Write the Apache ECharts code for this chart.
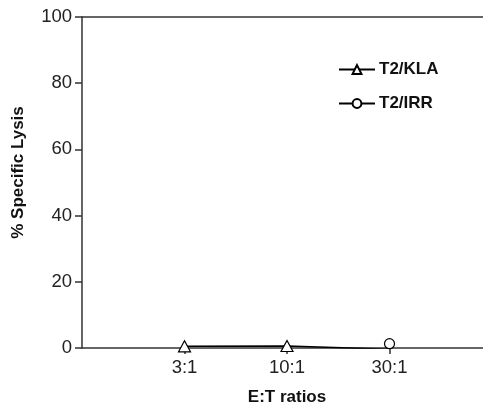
<!DOCTYPE html>
<html>
<head>
<meta charset="utf-8">
<script src="https://cdn.jsdelivr.net/npm/echarts@6/dist/echarts.min.js"></script>
<style>
html, body { margin: 0; padding: 0; background: #fff; }
#chart { width: 483px; height: 407px; }
</style>
</head>
<body>
<div id="chart"></div>
<script>
// E:T ratio categories, placed at positions 1..3 on the x scale
const categories = ['3:1', '10:1', '30:1'];
const positions = [1, 2, 3];
// % specific lysis per effector:target ratio
const klaValues = [0.5, 0.6, -0.4];
const irrValues = [null, null, 1.3];
const yTicks = [0, 20, 40, 60, 80, 100];

const font = 'Liberation Sans, Arial, Helvetica, sans-serif';
const axisColor = '#333';

function pairs(vals) {
  return positions.map((p, i) => [p, vals[i]]);
}

const chart = echarts.init(document.getElementById('chart'));
chart.setOption({
  animation: false,
  backgroundColor: '#fff',
  textStyle: { fontFamily: font },
  grid: { left: 82, top: 17, width: 410, height: 331, containLabel: false, outerBoundsMode: 'none' },
  legend: {
    orient: 'vertical',
    left: 333,
    top: 56,
    itemWidth: 36,
    itemHeight: 11,
    itemGap: 17,
    textStyle: { fontFamily: font, fontSize: 17, fontWeight: 'bold', color: '#111', padding: [0, 0, 0, -1] },
    data: ['T2/KLA', 'T2/IRR']
  },
  xAxis: [{
    type: 'value',
    min: 0,
    max: 4,
    interval: 1,
    name: 'E:T ratios',
    nameLocation: 'middle',
    nameGap: 41,
    nameTextStyle: { fontFamily: font, fontSize: 17, fontWeight: 'bold', color: '#111' },
    splitLine: { show: false },
    axisLine: { lineStyle: { color: axisColor, width: 1.5 } },
    axisTick: { show: true, length: 6, customValues: positions, lineStyle: { color: axisColor, width: 1.5 } },
    axisLabel: {
      customValues: positions,
      margin: 10,
      fontSize: 18.5,
      color: '#222',
      fontFamily: font,
      formatter: v => categories[positions.indexOf(v)] || ''
    }
  }, {
    type: 'value',
    position: 'top',
    min: 0,
    max: 4,
    axisLine: { show: true, lineStyle: { color: axisColor, width: 1.5 } },
    axisTick: { show: false },
    axisLabel: { show: false },
    splitLine: { show: false }
  }],
  yAxis: {
    type: 'value',
    min: 0,
    max: 100,
    interval: 20,
    name: '% Specific Lysis',
    nameLocation: 'middle',
    nameGap: 55,
    nameTextStyle: { fontFamily: font, fontSize: 17, fontWeight: 'bold', color: '#111', padding: [0, 0, 0, 20] },
    splitLine: { show: false },
    axisLine: { show: true, lineStyle: { color: axisColor, width: 1.5 } },
    axisTick: { show: true, length: 7, lineStyle: { color: axisColor, width: 1.5 } },
    axisLabel: {
      margin: 10,
      fontSize: 18.5,
      color: '#222',
      fontFamily: font,
      formatter: v => (yTicks.indexOf(v) >= 0 ? String(v) : '')
    }
  },
  series: [{
    name: 'T2/KLA',
    type: 'line',
    data: pairs(klaValues),
    clip: true,
    symbol: 'triangle',
    symbolSize: [12, 11],
    showAllSymbol: true,
    lineStyle: { color: '#000', width: 1.5 },
    itemStyle: { color: '#fff', borderColor: '#000', borderWidth: 1.2 },
    z: 3
  }, {
    name: 'T2/IRR',
    type: 'line',
    data: pairs(irrValues),
    clip: true,
    symbol: 'circle',
    symbolSize: 10,
    showAllSymbol: true,
    lineStyle: { color: '#000', width: 1.5 },
    itemStyle: { color: '#fff', borderColor: '#000', borderWidth: 1.2 },
    z: 3
  }]
});
</script>
</body>
</html>
